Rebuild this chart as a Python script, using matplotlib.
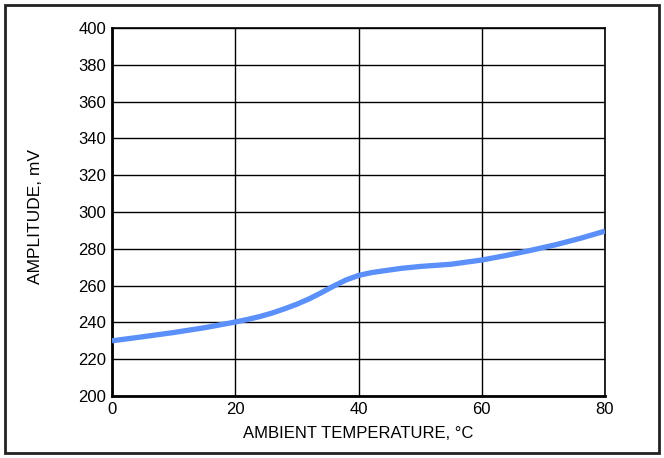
import numpy as np
import matplotlib
matplotlib.use("Agg")
import matplotlib.pyplot as plt
from matplotlib.patches import Rectangle

plt.rcParams["font.family"] = ["Liberation Sans", "DejaVu Sans"]

# 読み取り値 (温度 °C, 振幅 mV)
temp = [0, 5, 10, 15, 20, 22, 24, 26, 28, 30, 32, 34, 36, 38, 40, 42, 44,
        47, 50, 55, 60, 64, 68, 72, 76, 80]
amp = [230, 232.2, 234.5, 237.1, 240.2, 241.6, 243.2, 245.1, 247.4, 249.9, 252.8,
       256.2, 259.8, 263.1, 265.5, 267.0, 268.0, 269.4, 270.4, 271.6, 273.9,
       276.4, 279.2, 282.2, 285.7, 289.6]
xticks = [0, 20, 40, 60, 80]
yticks = list(range(200, 401, 20))

fig = plt.figure(figsize=(6.64, 4.58), dpi=100)
ax = fig.add_axes([112 / 664, 1 - 396 / 458, 493 / 664, 368 / 458])

ax.plot(temp, amp, color="#5b8ff9", lw=3.8, solid_capstyle="butt",
        solid_joinstyle="round", zorder=3)

ax.set_xlim(0, 80)
ax.set_ylim(200, 400)
ax.set_xticks(xticks)
ax.set_yticks(yticks)
ax.grid(True, color="black", lw=1.0)
ax.tick_params(length=0, labelsize=12, pad=4)
for s in ["left", "bottom"]:
    ax.spines[s].set_linewidth(2.0)
for s in ["top", "right"]:
    ax.spines[s].set_linewidth(1.2)
ax.set_xlabel("AMBIENT TEMPERATURE, °C", fontsize=12, labelpad=7)
ax.set_ylabel("AMPLITUDE, mV", fontsize=12.5)
ax.yaxis.set_label_coords(-0.14, 0.487)

# 外枠
fig.patches.append(Rectangle((5 / 664, 5 / 458), 654 / 664, 448 / 458,
                             transform=fig.transFigure, fill=False,
                             edgecolor="#222222", lw=2.0))

fig.savefig("out.png", dpi=100)
